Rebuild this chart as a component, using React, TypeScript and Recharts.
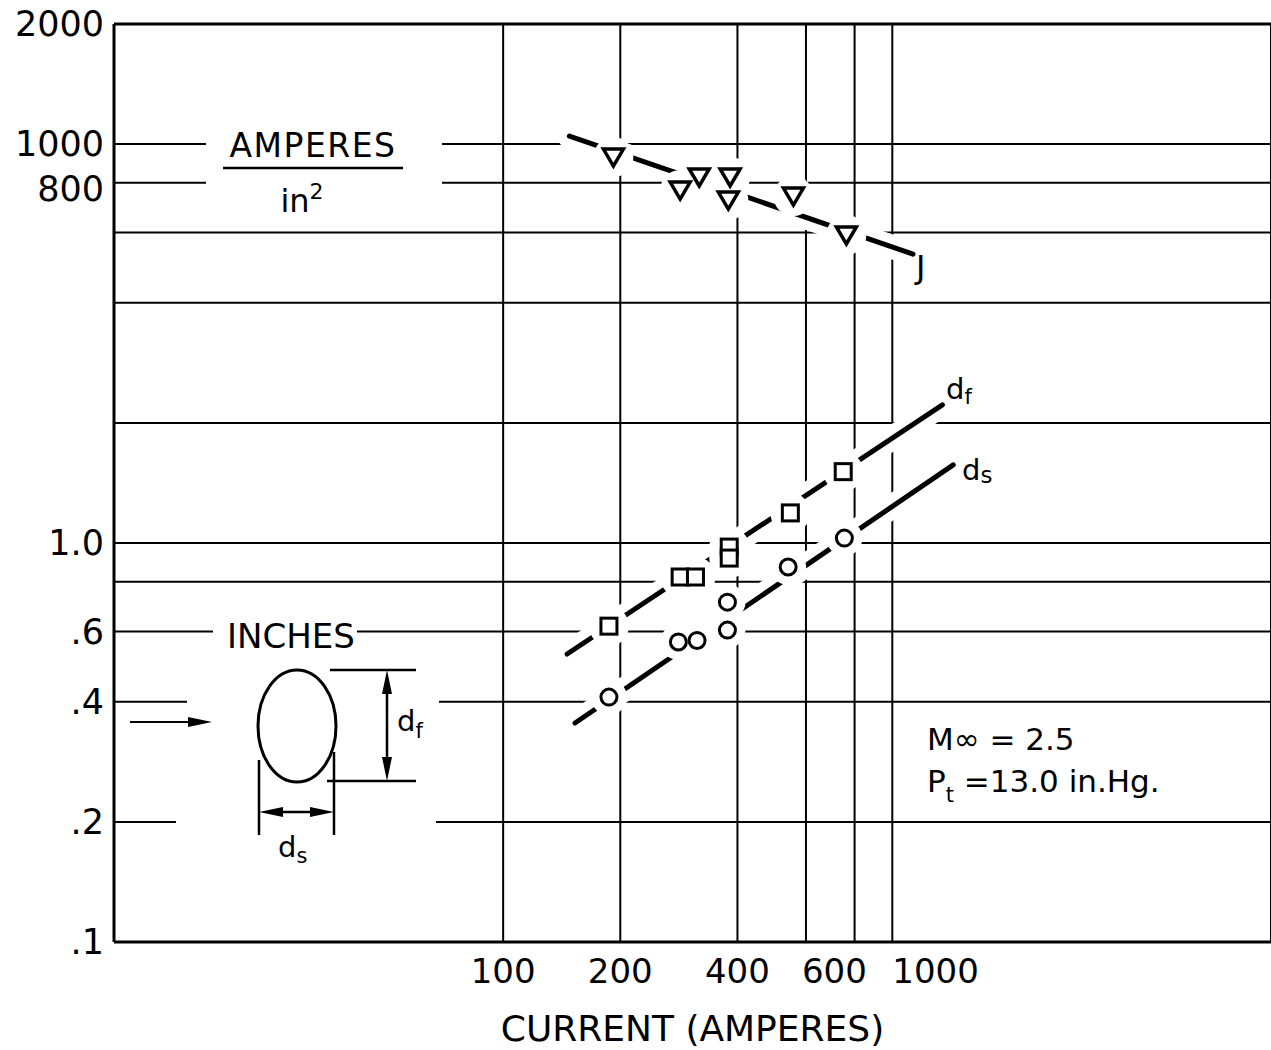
import React from 'react';
import { ComposedChart, Scatter, Line, XAxis, YAxis, CartesianGrid, ReferenceLine } from 'recharts';

const FONT = '"DejaVu Sans", sans-serif';

// ---- data (current in amperes) ----
const jCurrent = [192, 285, 319, 383, 379, 557, 762];
const jDensity = [928, 767, 827, 827, 724, 741, 592]; // amperes / in^2
const dfCurrent = [187, 285, 312, 381, 381, 547, 748];
const dfInches = [0.619, 0.822, 0.822, 0.977, 0.917, 1.19, 1.51];
const dsCurrent = [187, 282, 315, 377, 377, 540, 753];
const dsInches = [0.411, 0.565, 0.57, 0.711, 0.605, 0.871, 1.029];

// faired lines
const jFitCurrent = [148, 1130];
const jFitDensity = [1047, 530];
const dfFitCurrent = [146, 1345];
const dfFitInches = [0.527, 2.22];
const dsFitCurrent = [153, 1434];
const dsFitInches = [0.354, 1.57];

// axes
const xDomain = [10, 9400];
const xTicks = [100, 200, 400, 600, 800, 1000];
const xTickLabels = ['100', '200', '400', '600', '', '1000'];
const yDomain = [0.1, 20];
const yTicks = [0.1, 0.2, 0.4, 0.6, 0.8, 1, 2, 4, 6, 8, 10, 20];
const yTickLabels = ['.1', '.2', '.4', '.6', '', '1.0', '', '', '', '800', '1000', '2000'];
const J_SCALE = 100; // the upper decade reads amperes/in^2 = 100 x axis unit

const toPts = (xs: number[], ys: number[], k = 1) => xs.map((x, i) => ({ x, y: ys[i] / k }));

const jPts = toPts(jCurrent, jDensity, J_SCALE);
const dfPts = toPts(dfCurrent, dfInches);
const dsPts = toPts(dsCurrent, dsInches);
const jFit = toPts(jFitCurrent, jFitDensity, J_SCALE);
const dfFit = toPts(dfFitCurrent, dfFitInches);
const dsFit = toPts(dsFitCurrent, dsFitInches);

const makeHalo = (r: number) => (p: any) => <circle cx={p.cx} cy={p.cy} r={r} fill="#fff" />;
const HaloJ = makeHalo(20);
const HaloF = makeHalo(20);
const HaloS = makeHalo(18);
const Tri = (p: any) => (
  <path
    d={`M${p.cx - 10},${p.cy - 8}L${p.cx + 10},${p.cy - 8}L${p.cx},${p.cy + 9}Z`}
    fill="#fff"
    stroke="#000"
    strokeWidth={3.5}
  />
);
const Sq = (p: any) => (
  <rect x={p.cx - 8} y={p.cy - 8} width={16} height={16} fill="#fff" stroke="#000" strokeWidth={3} />
);
const Circ = (p: any) => <circle cx={p.cx} cy={p.cy} r={8} fill="#fff" stroke="#000" strokeWidth={3} />;

const XTick = (props: any) => {
  const { x, y, payload } = props;
  const v = payload.value;
  const label = xTickLabels[xTicks.indexOf(v)] ?? '';
  const start = v >= 600;
  return (
    <text x={x} y={y} dx={v === 600 ? -4 : 0} dy={33} textAnchor={start ? 'start' : 'middle'} fontFamily={FONT} fontSize={34} fill="#000">
      {label}
    </text>
  );
};

const YTick = (props: any) => {
  const { x, y, payload } = props;
  const v = payload.value;
  const label = yTickLabels[yTicks.indexOf(v)] ?? '';
  return (
    <text x={x} y={y} dx={-2} dy={v === 8 ? 18 : 12} textAnchor="end" fontFamily={FONT} fontSize={35} fill="#000">
      {label}
    </text>
  );
};

const Annotations = () => (
  <svg width={1271} height={1050} style={{ position: 'absolute', left: 0, top: 0, pointerEvents: 'none' }} fontFamily={FONT}>
    {/* gaps in grid lines around lettering */}
    <rect x={206} y={132} width={236} height={58} fill="#fff" />
    <rect x={213} y={620} width={144} height={22} fill="#fff" />
    <rect x={187} y={697} width={252} height={12} fill="#fff" />
    <rect x={176} y={816} width={260} height={12} fill="#fff" />

    {/* AMPERES / in^2 */}
    <text x={313} y={157} textAnchor="middle" fontSize={33} letterSpacing={1.5} fill="#000">AMPERES</text>
    <line x1={223} y1={168} x2={403} y2={168} stroke="#000" strokeWidth={2.5} />
    <text x={302} y={212} textAnchor="middle" fontSize={32} fill="#000">
      in<tspan fontSize={22} dy={-13}>2</tspan>
    </text>

    {/* INCHES */}
    <text x={227} y={648} fontSize={34} fill="#000">INCHES</text>

    {/* flow arrow */}
    <line x1={130} y1={722} x2={196} y2={722} stroke="#000" strokeWidth={2} />
    <polygon points="212,722 188,717 188,727" fill="#000" />

    {/* ellipse sketch */}
    <ellipse cx={297} cy={726} rx={39} ry={56} fill="none" stroke="#000" strokeWidth={3} />

    {/* d_f dimension */}
    <line x1={330} y1={670} x2={416} y2={670} stroke="#000" strokeWidth={2.5} />
    <line x1={327} y1={781} x2={416} y2={781} stroke="#000" strokeWidth={2.5} />
    <line x1={387} y1={680} x2={387} y2={771} stroke="#000" strokeWidth={2.5} />
    <polygon points="387,670 382,694 392,694" fill="#000" />
    <polygon points="387,781 382,757 392,757" fill="#000" />
    <text x={397} y={731} fontSize={29} fill="#000">
      d<tspan fontSize={21} dy={7}>f</tspan>
    </text>

    {/* d_s dimension */}
    <line x1={259} y1={760} x2={259} y2={835} stroke="#000" strokeWidth={2.5} />
    <line x1={334} y1={752} x2={334} y2={835} stroke="#000" strokeWidth={2.5} />
    <line x1={269} y1={812} x2={324} y2={812} stroke="#000" strokeWidth={2.5} />
    <polygon points="259,812 283,807 283,817" fill="#000" />
    <polygon points="334,812 310,807 310,817" fill="#000" />
    <text x={278} y={857} fontSize={29} fill="#000">
      d<tspan fontSize={21} dy={6}>s</tspan>
    </text>

    {/* curve labels */}
    <text x={916} y={278} fontSize={32} fill="#000">J</text>
    <text x={946} y={399} fontSize={29} fill="#000">
      d<tspan fontSize={21} dy={5}>f</tspan>
    </text>
    <text x={962} y={480} fontSize={29} fill="#000">
      d<tspan fontSize={23} dy={3}>s</tspan>
    </text>

    {/* conditions */}
    <text x={927} y={750} fontSize={31} fill="#000">M∞ = 2.5</text>
    <text x={927} y={792} fontSize={31} fill="#000">
      P<tspan fontSize={21} dy={10}>t</tspan>
      <tspan dy={-10}> =13.0 in.Hg.</tspan>
    </text>
  </svg>
);

const lineCommon = { dataKey: 'y', dot: false, activeDot: false, isAnimationActive: false, strokeLinecap: 'round' as const, legendType: 'none' as const };

export default function App() {
  return (
    <div style={{ position: 'absolute', left: 0, top: 0, width: 1271, height: 1050, background: '#fff' }}>
      <ComposedChart width={1271} height={1050} margin={{ top: 24, right: 0, bottom: 0, left: 0 }}>
        <CartesianGrid stroke="#000" strokeWidth={2} />
        <XAxis
          dataKey="x"
          type="number"
          scale="log"
          domain={xDomain}
          allowDataOverflow
          ticks={xTicks}
          interval={0}
          tick={(p: any) => <XTick {...p} />}
          tickLine={false}
          axisLine={{ stroke: '#000', strokeWidth: 3 }}
          height={108}
          label={{ value: 'CURRENT (AMPERES)', position: 'insideBottom', offset: 9, fontSize: 36, fontFamily: FONT, fill: '#000' }}
        />
        <YAxis
          dataKey="y"
          type="number"
          scale="log"
          domain={yDomain}
          allowDataOverflow
          ticks={yTicks}
          interval={0}
          tick={(p: any) => <YTick {...p} />}
          tickLine={false}
          axisLine={{ stroke: '#000', strokeWidth: 3 }}
          width={114}
        />
        <ReferenceLine y={20} stroke="#000" strokeWidth={3} />

        {/* white casings under faired lines (break the grid where curves cross) */}
        <Line {...lineCommon} data={jFit} stroke="#fff" strokeWidth={24} />
        <Line {...lineCommon} data={dfFit} stroke="#fff" strokeWidth={24} />
        <Line {...lineCommon} data={dsFit} stroke="#fff" strokeWidth={24} />
        {/* faired lines */}
        <Line {...lineCommon} data={jFit} stroke="#000" strokeWidth={5} />
        <Line {...lineCommon} data={dfFit} stroke="#000" strokeWidth={5} />
        <Line {...lineCommon} data={dsFit} stroke="#000" strokeWidth={5} />

        {/* halos break lines around symbols */}
        <Scatter data={jPts} shape={HaloJ} isAnimationActive={false} />
        <Scatter data={dfPts} shape={HaloF} isAnimationActive={false} />
        <Scatter data={dsPts} shape={HaloS} isAnimationActive={false} />
        {/* markers */}
        <Scatter name="J" data={jPts} shape={Tri} isAnimationActive={false} />
        <Scatter name="df" data={dfPts} shape={Sq} isAnimationActive={false} />
        <Scatter name="ds" data={dsPts} shape={Circ} isAnimationActive={false} />
      </ComposedChart>
      <Annotations />
    </div>
  );
}
